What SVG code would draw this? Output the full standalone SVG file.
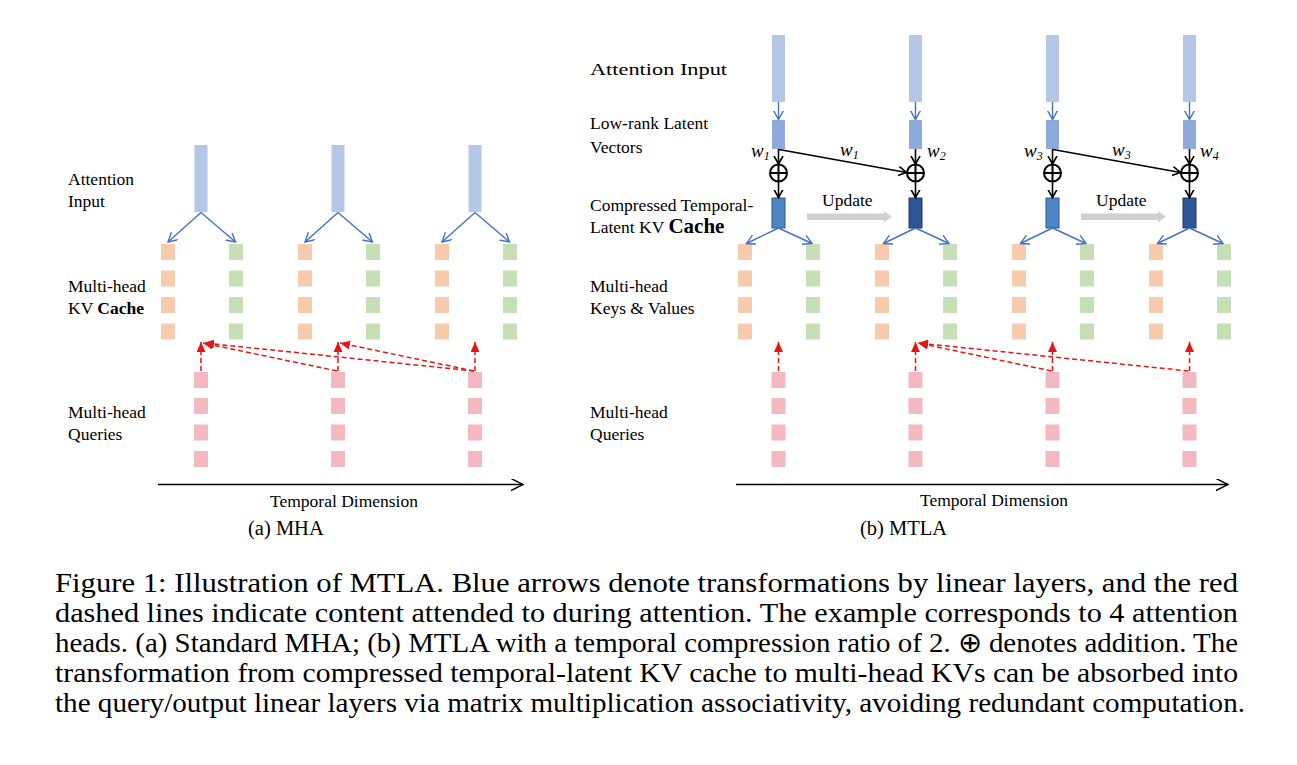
<svg xmlns="http://www.w3.org/2000/svg" width="1297" height="765" viewBox="0 0 1297 765">
<style>
text{font-family:"Liberation Serif","Times New Roman",serif;fill:#000}
.lbl{font-size:17.5px}
.cap{font-size:20.5px}
.fig{font-size:28px}
.w{font-size:19px;font-style:italic}
.ws{font-size:12px;font-style:italic}
.bar{fill:#b4c7e7}
.lat{fill:#8eaadb}
.cmpA{fill:#4f86c6;stroke:#2f5597;stroke-width:1}
.cmpB{fill:#2f5597;stroke:#203864;stroke-width:1}
.k{fill:#f8cbad}
.v{fill:#c5e0b4}
.q{fill:#f4b8c1}
.blue{stroke:#4472c4;stroke-width:1.4;fill:none;marker-end:url(#ab)}
.blk{stroke:#000;stroke-width:1.6;fill:none;marker-end:url(#ak)}
.red{stroke:#e51515;stroke-width:1.5;fill:none;stroke-dasharray:5 3;marker-end:url(#ar)}
.axis{stroke:#000;stroke-width:1.4;fill:none;marker-end:url(#ax)}
.plus{stroke:#000;stroke-width:2;fill:#fff}
.upd{fill:#d0d0d0}
</style>
<defs>
<marker id="ab" markerUnits="userSpaceOnUse" markerWidth="12" markerHeight="12" refX="9" refY="5" orient="auto"><path d="M0,0 L9,5 L0,10" fill="none" stroke="#4472c4" stroke-width="1.4"/></marker>
<marker id="ak" markerUnits="userSpaceOnUse" markerWidth="12" markerHeight="12" refX="8" refY="5" orient="auto"><path d="M0,0.5 L8,5 L0,9.5" fill="none" stroke="#000" stroke-width="1.6"/></marker>
<marker id="ar" markerUnits="userSpaceOnUse" markerWidth="14" markerHeight="12" refX="10" refY="4.5" orient="auto"><path d="M0,0 L10,4.5 L0,9 z" fill="#e51515"/></marker>
<marker id="ax" markerUnits="userSpaceOnUse" markerWidth="16" markerHeight="14" refX="12" refY="6" orient="auto"><path d="M0,0 L12,6 L0,12" fill="none" stroke="#000" stroke-width="1.4"/></marker>
</defs>
<rect width="1297" height="765" fill="#fff"/>

<!-- ===== Panel (a) MHA ===== -->
<g id="a-labels">
<text class="lbl" x="68" y="185">Attention</text>
<text class="lbl" x="68" y="207">Input</text>
<text class="lbl" x="68" y="291.5">Multi-head</text>
<text class="lbl" x="68" y="313.5">KV <tspan font-weight="bold">Cache</tspan></text>
<text class="lbl" x="68" y="418">Multi-head</text>
<text class="lbl" x="68" y="440">Queries</text>
<text class="lbl" x="270" y="506.5">Temporal Dimension</text>
<text class="cap" x="248" y="535">(a) MHA</text>
</g>
<g id="a-t1">
<rect class="bar" x="194.5" y="145" width="13" height="67"/>
<rect class="k" x="161" y="244" width="14" height="16"/><rect class="k" x="161" y="270.5" width="14" height="16"/><rect class="k" x="161" y="297" width="14" height="16"/><rect class="k" x="161" y="323.5" width="14" height="16"/>
<rect class="v" x="229" y="244" width="14" height="16"/><rect class="v" x="229" y="270.5" width="14" height="16"/><rect class="v" x="229" y="297" width="14" height="16"/><rect class="v" x="229" y="323.5" width="14" height="16"/>
<rect class="q" x="194" y="372" width="14" height="16"/><rect class="q" x="194" y="398" width="14" height="16"/><rect class="q" x="194" y="424.5" width="14" height="16"/><rect class="q" x="194" y="451" width="14" height="16"/>
</g>
<g id="a-t2">
<rect class="bar" x="331.5" y="145" width="13" height="67"/>
<rect class="k" x="298" y="244" width="14" height="16"/><rect class="k" x="298" y="270.5" width="14" height="16"/><rect class="k" x="298" y="297" width="14" height="16"/><rect class="k" x="298" y="323.5" width="14" height="16"/>
<rect class="v" x="366" y="244" width="14" height="16"/><rect class="v" x="366" y="270.5" width="14" height="16"/><rect class="v" x="366" y="297" width="14" height="16"/><rect class="v" x="366" y="323.5" width="14" height="16"/>
<rect class="q" x="331" y="372" width="14" height="16"/><rect class="q" x="331" y="398" width="14" height="16"/><rect class="q" x="331" y="424.5" width="14" height="16"/><rect class="q" x="331" y="451" width="14" height="16"/>
</g>
<g id="a-t3">
<rect class="bar" x="468.5" y="145" width="13" height="67"/>
<rect class="k" x="435" y="244" width="14" height="16"/><rect class="k" x="435" y="270.5" width="14" height="16"/><rect class="k" x="435" y="297" width="14" height="16"/><rect class="k" x="435" y="323.5" width="14" height="16"/>
<rect class="v" x="503" y="244" width="14" height="16"/><rect class="v" x="503" y="270.5" width="14" height="16"/><rect class="v" x="503" y="297" width="14" height="16"/><rect class="v" x="503" y="323.5" width="14" height="16"/>
<rect class="q" x="468" y="372" width="14" height="16"/><rect class="q" x="468" y="398" width="14" height="16"/><rect class="q" x="468" y="424.5" width="14" height="16"/><rect class="q" x="468" y="451" width="14" height="16"/>
</g>
<g id="a-connectors">
<path class="blue" d="M201,212.5 L168,242"/><path class="blue" d="M201,212.5 L235.5,242"/>
<path class="blue" d="M338,212.5 L305,242"/><path class="blue" d="M338,212.5 L372.5,242"/>
<path class="blue" d="M475,212.5 L442,242"/><path class="blue" d="M475,212.5 L509.5,242"/>
<path class="red" d="M201,371 L201,342"/>
<path class="red" d="M338,371 L338,342"/>
<path class="red" d="M337,371 L203,343"/>
<path class="red" d="M475,371 L475,342"/>
<path class="red" d="M474,371 L340,343"/>
<path class="red" d="M474,371 L204,343"/>
<path class="axis" d="M158,484.5 L523,484.5"/>
</g>

<!-- ===== Panel (b) MTLA ===== -->
<g id="b-labels">
<text class="lbl" x="590" y="75" textLength="137" lengthAdjust="spacingAndGlyphs" font-size="19px">Attention Input</text>
<text class="lbl" x="590" y="128.5">Low-rank Latent</text>
<text class="lbl" x="590" y="152.5">Vectors</text>
<text class="lbl" x="590" y="211">Compressed Temporal-</text>
<text class="lbl" x="590" y="233">Latent KV <tspan font-weight="bold" font-size="21px">Cache</tspan></text>
<text class="lbl" x="590" y="291.5">Multi-head</text>
<text class="lbl" x="590" y="313.5">Keys &amp; Values</text>
<text class="lbl" x="590" y="418">Multi-head</text>
<text class="lbl" x="590" y="440">Queries</text>
<text class="lbl" x="920" y="506">Temporal Dimension</text>
<text class="cap" x="860" y="535">(b) MTLA</text>
</g>
<g id="b-weights">
<text class="w" x="751" y="157">w<tspan class="ws" dy="3">1</tspan></text>
<text class="w" x="840" y="156">w<tspan class="ws" dy="3">1</tspan></text>
<text class="w" x="927" y="157">w<tspan class="ws" dy="3">2</tspan></text>
<text class="w" x="1024" y="157">w<tspan class="ws" dy="3">3</tspan></text>
<text class="w" x="1112" y="156">w<tspan class="ws" dy="3">3</tspan></text>
<text class="w" x="1200" y="157">w<tspan class="ws" dy="3">4</tspan></text>
</g>
<g id="b-update1">
<path class="upd" d="M807,213.5 L884,213.5 L884,211 L892,216.8 L884,222.5 L884,220 L807,220 z"/>
<text class="lbl" x="822" y="206">Update</text>
</g>
<g id="b-update2">
<path class="upd" d="M1081,213.5 L1158,213.5 L1158,211 L1166,216.8 L1158,222.5 L1158,220 L1081,220 z"/>
<text class="lbl" x="1096" y="206">Update</text>
</g>
<g id="b-t1">
<rect class="bar" x="772" y="35" width="13" height="67"/>
<rect class="lat" x="772" y="120" width="13" height="29"/>
<circle class="plus" cx="778.5" cy="173" r="8.5"/><path d="M770,173 H787 M778.5,164.5 V181.5" stroke="#000" stroke-width="2"/>
<rect class="cmpA" x="772" y="198" width="13" height="30"/>
<rect class="k" x="738" y="244" width="14" height="16"/><rect class="k" x="738" y="270.5" width="14" height="16"/><rect class="k" x="738" y="297" width="14" height="16"/><rect class="k" x="738" y="323.5" width="14" height="16"/>
<rect class="v" x="806" y="244" width="14" height="16"/><rect class="v" x="806" y="270.5" width="14" height="16"/><rect class="v" x="806" y="297" width="14" height="16"/><rect class="v" x="806" y="323.5" width="14" height="16"/>
<rect class="q" x="771.5" y="372" width="14" height="16"/><rect class="q" x="771.5" y="398" width="14" height="16"/><rect class="q" x="771.5" y="424.5" width="14" height="16"/><rect class="q" x="771.5" y="451" width="14" height="16"/>
</g>
<g id="b-t2">
<rect class="bar" x="909" y="35" width="13" height="67"/>
<rect class="lat" x="909" y="120" width="13" height="29"/>
<circle class="plus" cx="915.5" cy="173" r="8.5"/><path d="M907,173 H924 M915.5,164.5 V181.5" stroke="#000" stroke-width="2"/>
<rect class="cmpB" x="909" y="198" width="13" height="30"/>
<rect class="k" x="875" y="244" width="14" height="16"/><rect class="k" x="875" y="270.5" width="14" height="16"/><rect class="k" x="875" y="297" width="14" height="16"/><rect class="k" x="875" y="323.5" width="14" height="16"/>
<rect class="v" x="943" y="244" width="14" height="16"/><rect class="v" x="943" y="270.5" width="14" height="16"/><rect class="v" x="943" y="297" width="14" height="16"/><rect class="v" x="943" y="323.5" width="14" height="16"/>
<rect class="q" x="908.5" y="372" width="14" height="16"/><rect class="q" x="908.5" y="398" width="14" height="16"/><rect class="q" x="908.5" y="424.5" width="14" height="16"/><rect class="q" x="908.5" y="451" width="14" height="16"/>
</g>
<g id="b-t3">
<rect class="bar" x="1046" y="35" width="13" height="67"/>
<rect class="lat" x="1046" y="120" width="13" height="29"/>
<circle class="plus" cx="1052.5" cy="173" r="8.5"/><path d="M1044,173 H1061 M1052.5,164.5 V181.5" stroke="#000" stroke-width="2"/>
<rect class="cmpA" x="1046" y="198" width="13" height="30"/>
<rect class="k" x="1012" y="244" width="14" height="16"/><rect class="k" x="1012" y="270.5" width="14" height="16"/><rect class="k" x="1012" y="297" width="14" height="16"/><rect class="k" x="1012" y="323.5" width="14" height="16"/>
<rect class="v" x="1080" y="244" width="14" height="16"/><rect class="v" x="1080" y="270.5" width="14" height="16"/><rect class="v" x="1080" y="297" width="14" height="16"/><rect class="v" x="1080" y="323.5" width="14" height="16"/>
<rect class="q" x="1045.5" y="372" width="14" height="16"/><rect class="q" x="1045.5" y="398" width="14" height="16"/><rect class="q" x="1045.5" y="424.5" width="14" height="16"/><rect class="q" x="1045.5" y="451" width="14" height="16"/>
</g>
<g id="b-t4">
<rect class="bar" x="1183" y="35" width="13" height="67"/>
<rect class="lat" x="1183" y="120" width="13" height="29"/>
<circle class="plus" cx="1189.5" cy="173" r="8.5"/><path d="M1181,173 H1198 M1189.5,164.5 V181.5" stroke="#000" stroke-width="2"/>
<rect class="cmpB" x="1183" y="198" width="13" height="30"/>
<rect class="k" x="1149" y="244" width="14" height="16"/><rect class="k" x="1149" y="270.5" width="14" height="16"/><rect class="k" x="1149" y="297" width="14" height="16"/><rect class="k" x="1149" y="323.5" width="14" height="16"/>
<rect class="v" x="1217" y="244" width="14" height="16"/><rect class="v" x="1217" y="270.5" width="14" height="16"/><rect class="v" x="1217" y="297" width="14" height="16"/><rect class="v" x="1217" y="323.5" width="14" height="16"/>
<rect class="q" x="1182.5" y="372" width="14" height="16"/><rect class="q" x="1182.5" y="398" width="14" height="16"/><rect class="q" x="1182.5" y="424.5" width="14" height="16"/><rect class="q" x="1182.5" y="451" width="14" height="16"/>
</g>
<g id="b-connectors">
<path class="blue" d="M778.5,102 V119.5"/><path class="blue" d="M915.5,102 V119.5"/><path class="blue" d="M1052.5,102 V119.5"/><path class="blue" d="M1189.5,102 V119.5"/>
<path class="blk" d="M778.5,149 V164"/><path class="blk" d="M915.5,149 V164"/><path class="blk" d="M1052.5,149 V164"/><path class="blk" d="M1189.5,149 V164"/>
<path class="blk" d="M778.5,181.5 V197.5"/><path class="blk" d="M915.5,181.5 V197.5"/><path class="blk" d="M1052.5,181.5 V197.5"/><path class="blk" d="M1189.5,181.5 V197.5"/>
<path class="blk" d="M779,149.5 L906.5,172.5"/>
<path class="blk" d="M1053,149.5 L1180.5,172.5"/>
<path class="blue" d="M778.5,228 L746.5,243.5"/><path class="blue" d="M778.5,228 L812,243.5"/>
<path class="blue" d="M915.5,228 L883.5,243.5"/><path class="blue" d="M915.5,228 L949,243.5"/>
<path class="blue" d="M1052.5,228 L1020.5,243.5"/><path class="blue" d="M1052.5,228 L1086,243.5"/>
<path class="blue" d="M1189.5,228 L1157.5,243.5"/><path class="blue" d="M1189.5,228 L1223,243.5"/>
<path class="red" d="M778.5,371 L778.5,342"/>
<path class="red" d="M915.5,371 L915.5,342"/>
<path class="red" d="M1052.5,371 L1052.5,342"/>
<path class="red" d="M1051.5,371 L918,343"/>
<path class="red" d="M1189.5,371 L1189.5,342"/>
<path class="red" d="M1188.5,371 L918,343"/>
<path class="axis" d="M736,484.5 L1228,484.5"/>
</g>

<!-- ===== Caption ===== -->
<g id="caption">
<text class="fig" x="55" y="592" textLength="1183" lengthAdjust="spacingAndGlyphs">Figure 1: Illustration of MTLA. Blue arrows denote transformations by linear layers, and the red</text>
<text class="fig" x="55" y="622" textLength="1183" lengthAdjust="spacingAndGlyphs">dashed lines indicate content attended to during attention. The example corresponds to 4 attention</text>
<text class="fig" x="55" y="652" textLength="1183" lengthAdjust="spacingAndGlyphs">heads. (a) Standard MHA; (b) MTLA with a temporal compression ratio of 2. ⊕ denotes addition. The</text>
<text class="fig" x="55" y="682" textLength="1183" lengthAdjust="spacingAndGlyphs">transformation from compressed temporal-latent KV cache to multi-head KVs can be absorbed into</text>
<text class="fig" x="55" y="712" textLength="1190" lengthAdjust="spacingAndGlyphs">the query/output linear layers via matrix multiplication associativity, avoiding redundant computation.</text>
</g>
</svg>
